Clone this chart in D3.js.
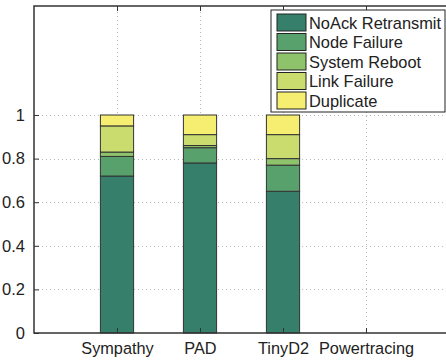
<!DOCTYPE html>
<html>
<head>
<meta charset="utf-8">
<script src="https://cdn.jsdelivr.net/npm/d3@7"></script>
<style>
  body { margin: 0; background: #fff; }
  svg text { font-family: "Liberation Sans", Arial, sans-serif; fill: #222; }
</style>
</head>
<body>
<div id="chart"></div>
<script>
const categories = ["Sympathy", "PAD", "TinyD2", "Powertracing"];
const seriesNames = ["NoAck Retransmit", "Node Failure", "System Reboot", "Link Failure", "Duplicate"];
const noAck = [0.72, 0.78, 0.65, 0];
const nodeFailure = [0.09, 0.07, 0.12, 0];
const systemReboot = [0.02, 0.01, 0.03, 0];
const linkFailure = [0.12, 0.05, 0.11, 0];
const duplicate = [0.05, 0.09, 0.09, 0];
const yTicks = [0, 0.2, 0.4, 0.6, 0.8, 1];
const colors = ["#357f6b", "#59a16c", "#8ec26b", "#c9dc6d", "#f6ee70"];

const width = 446, height = 360;
const margin = { top: 6, left: 34, bottom: 27 };

const rows = categories.map((c, i) => ({
  cat: c, idx: i + 1,
  "NoAck Retransmit": noAck[i],
  "Node Failure": nodeFailure[i],
  "System Reboot": systemReboot[i],
  "Link Failure": linkFailure[i],
  "Duplicate": duplicate[i]
}));

const stacked = d3.stack().keys(seriesNames)(rows);

const xScale = d3.scaleLinear().domain([0, 5]).range([margin.left, margin.left + 5 * 83]);
const yScale = d3.scaleLinear().domain([0, 1.5]).range([height - margin.bottom, margin.top]);
const barW = xScale(0.4) - xScale(0);

const svg = d3.select("#chart").append("svg")
  .attr("width", width)
  .attr("height", height);

// grid
const grid = svg.append("g")
  .attr("stroke", "#b8b8b8")
  .attr("stroke-dasharray", "1,3")
  .attr("stroke-width", 1);
grid.selectAll(".hg").data(yTicks.slice(1)).join("line")
  .attr("x1", margin.left).attr("x2", width)
  .attr("y1", d => Math.round(yScale(d)) + 0.5).attr("y2", d => Math.round(yScale(d)) + 0.5);
grid.selectAll(".vg").data(d3.range(1, 5)).join("line")
  .attr("y1", yScale(0)).attr("y2", margin.top)
  .attr("x1", d => Math.round(xScale(d)) + 0.5).attr("x2", d => Math.round(xScale(d)) + 0.5);

// bars
const layers = svg.append("g");
layers.selectAll("g").data(stacked).join("g")
  .attr("fill", (d, i) => colors[i])
  .selectAll("rect")
  .data(d => d.filter(p => p[1] - p[0] > 0))
  .join("rect")
  .attr("x", d => xScale(d.data.idx) - barW / 2)
  .attr("y", d => yScale(d[1]))
  .attr("width", barW)
  .attr("height", d => yScale(d[0]) - yScale(d[1]))
  .attr("stroke", "#333")
  .attr("stroke-width", 1);

// axes
const yAxis = svg.append("g")
  .attr("transform", `translate(${margin.left},0)`)
  .call(d3.axisLeft(yScale).tickValues(yTicks).tickSize(-5).tickPadding(9).tickFormat(d3.format("~g")))
  .call(g => g.select(".domain").remove())
  .call(g => g.selectAll(".tick line").attr("stroke", "#333"))
  .call(g => g.selectAll(".tick text").attr("font-size", 16.5).attr("fill", "#222"));

const xAxis = svg.append("g")
  .attr("transform", `translate(0,${yScale(0)})`)
  .call(d3.axisBottom(xScale).tickValues(d3.range(1, 5)).tickSize(-5).tickPadding(9)
    .tickFormat(d => categories[d - 1]))
  .call(g => g.select(".domain").remove())
  .call(g => g.selectAll(".tick line").attr("stroke", "#333"))
  .call(g => g.selectAll(".tick text").attr("font-size", 16.3).attr("fill", "#222"));

const topAxis = svg.append("g")
  .attr("transform", `translate(0,${margin.top})`)
  .call(d3.axisTop(xScale).tickValues(d3.range(1, 5)).tickSize(-5).tickFormat(""))
  .call(g => g.select(".domain").remove())
  .call(g => g.selectAll(".tick line").attr("stroke", "#333"));

// frame
svg.append("path")
  .attr("d", `M${width},${margin.top}H${margin.left}V${yScale(0)}H${width}`)
  .attr("fill", "none")
  .attr("stroke", "#333")
  .attr("stroke-width", 1.5);

// legend
const legend = svg.append("g").attr("transform", "translate(271,10)");
legend.append("rect")
  .attr("width", 174).attr("height", 102)
  .attr("fill", "#fff").attr("stroke", "#222").attr("stroke-width", 1);
const item = legend.selectAll(".item").data(seriesNames).join("g")
  .attr("transform", (d, i) => `translate(6,${4 + i * 19.5})`);
item.append("rect")
  .attr("width", 29).attr("height", 17)
  .attr("fill", (d, i) => colors[i])
  .attr("stroke", "#222").attr("stroke-width", 1);
item.append("text")
  .attr("x", 32).attr("y", 9)
  .attr("dy", "0.35em")
  .attr("font-size", 16.4)
  .text(d => d);
</script>
</body>
</html>
